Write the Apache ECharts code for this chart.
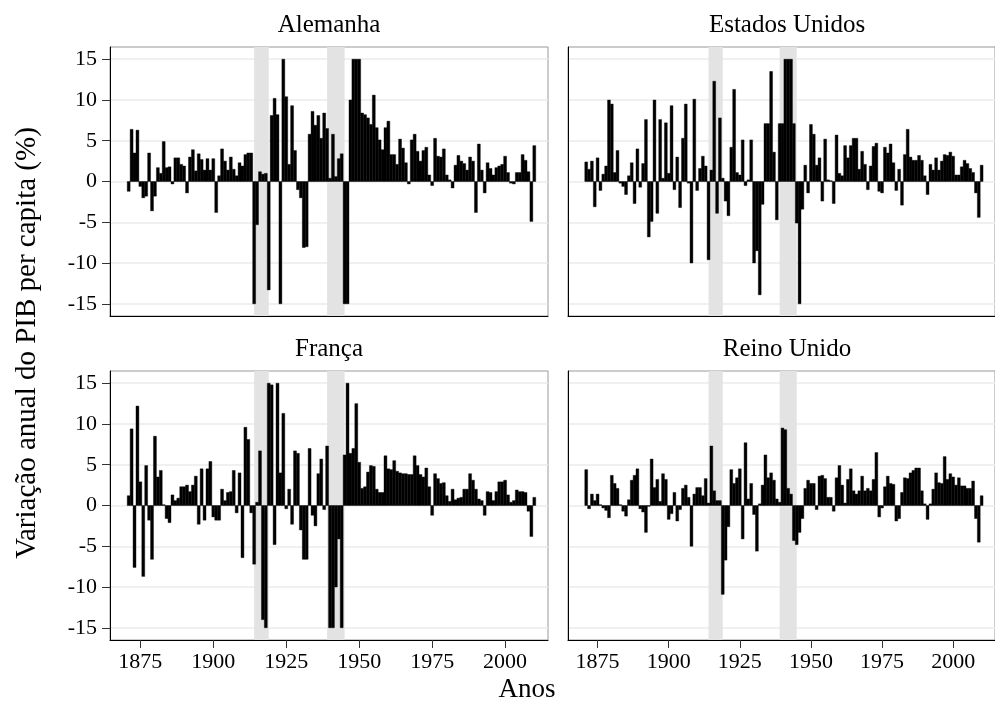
<!DOCTYPE html>
<html>
<head>
<meta charset="utf-8">
<script src="https://cdn.jsdelivr.net/npm/echarts@6/dist/echarts.min.js"></script>
<style>
  html, body { margin: 0; padding: 0; background: #fff; }
  #chart { width: 995px; height: 710px; }
</style>
</head>
<body>
<div id="chart"></div>
<script>
// variação anual do PIB per capita (%), 1871-2010 (cortada em ±15)
const firstYear = 1871;

const alemanha = [
  -1.2, 6.4, 3.5, 6.3, -0.6, -2.0, -1.8, 3.5, -3.6, -1.8,
  1.7, 1.0, 4.9, 1.7, 1.8, -0.3, 2.9, 2.9, 2.1, 1.9,
  -1.4, 3.0, 3.9, 1.3, 3.4, 2.7, 1.4, 2.8, 1.4, 2.8,
  -3.8, 0.7, 4.0, 2.5, 1.4, 3.0, 1.5, 0.7, 2.3, 1.9,
  3.3, 3.5, 3.5, -15, -5.3, 1.2, 0.9, 1.0, -13.3, 8.1,
  10.2, 8.2, -15, 15, 10.4, 2.1, 9.3, 3.8, -1.0, -2.0,
  -8.1, -8.0, 5.8, 8.6, 6.9, 8.1, 5.3, 8.4, 6.5, 0.4,
  5.8, 0.6, 2.8, 3.4, -15, -15, 10.0, 15, 15, 15,
  8.4, 8.2, 7.8, 7.0, 10.6, 6.6, 5.1, 3.9, 6.6, 7.4,
  3.3, 3.3, 2.1, 5.2, 4.1, 2.3, -0.3, 5.1, 5.8, 3.7,
  2.5, 3.8, 4.2, 0.8, -0.5, 5.3, 3.1, 3.0, 4.0, 0.8,
  0.2, -0.8, 2.0, 3.2, 2.5, 2.2, 1.4, 3.0, 2.5, -3.8,
  4.6, 1.4, -1.4, 2.3, 1.6, 0.8, 1.7, 1.9, 2.1, 3.1,
  1.1, -0.2, -0.3, 1.1, 1.1, 3.3, 2.6, 1.2, -4.9, 4.4
];

const estadosUnidos = [
  2.4, 1.5, 2.5, -3.1, 2.9, -1.1, 0.9, 1.9, 10.0, 9.5,
  1.1, 3.8, -0.2, -0.6, -1.6, 0.7, 2.3, -2.7, 4.0, -0.7,
  2.2, 7.6, -6.8, -4.9, 10.0, -3.9, 7.6, 0.4, 7.2, 1.0,
  9.3, -1.0, 3.0, -3.2, 5.3, 9.5, -0.2, -10.0, 10.1, -1.1,
  1.6, 3.1, 1.9, -9.6, 1.4, 12.3, -3.9, 7.8, 0.4, -2.4,
  -4.2, 4.2, 11.3, 1.1, 0.8, 5.1, -0.5, 0.2, 5.1, -10.0,
  -8.5, -13.9, -2.8, 7.1, 7.1, 13.5, 3.6, -4.7, 7.1, 7.1,
  15, 15, 15, 7.1, -5.1, -15, -3.4, 2.0, -1.4, 7.0,
  5.8, 2.0, 2.9, -2.4, 5.2, 0.2, 0.1, -2.7, 5.7, 1.0,
  0.7, 4.4, 2.9, 4.4, 5.3, 5.3, 1.5, 3.7, 2.1, -1.0,
  1.9, 4.3, 4.7, -1.2, -1.4, 4.2, 3.5, 4.6, 2.3, -1.1,
  1.5, -2.9, 3.3, 6.4, 3.0, 2.6, 2.6, 3.2, 2.6, 0.7,
  -1.6, 2.1, 1.4, 2.9, 1.4, 2.5, 3.3, 3.2, 3.6, 3.1,
  0.8, 0.8, 1.8, 2.6, 2.2, 1.6, 1.1, -1.4, -4.4, 2.0
];

const franca = [
  1.2, 9.4, -7.6, 12.2, 2.9, -8.7, 4.9, -1.8, -6.6, 8.5,
  3.5, 4.3, 0.1, -1.6, -2.1, 1.3, 0.6, 0.9, 2.3, 2.3,
  2.5, 1.7, 2.5, 3.6, -2.3, 4.5, -1.8, 4.5, 5.4, -1.4,
  -1.8, -1.8, 2.0, 0.6, 1.6, 1.7, 4.3, -0.9, 4.0, -6.4,
  9.6, 8.1, -0.9, -7.2, 0.4, 6.7, -14.0, -15, 15, 14.8,
  -4.8, 15, 4.0, 11.3, -0.4, 2.0, -2.3, 6.7, 6.4, -3.0,
  -6.6, -6.6, 7.0, -1.2, -2.5, 3.9, 5.7, -0.5, 7.3, -15,
  -15, -10.0, -4.1, -15, 6.2, 15, 6.4, 7.0, 12.5, 5.3,
  2.1, 2.3, 4.1, 4.9, 4.8, 2.0, 1.6, 1.6, 6.1, 4.5,
  4.4, 5.5, 4.2, 4.0, 3.9, 3.9, 3.8, 3.8, 6.1, 4.9,
  3.8, 3.5, 4.6, 2.3, -1.2, 3.9, 3.3, 2.7, 2.8, 1.2,
  0.5, 2.0, 0.7, 0.9, 1.0, 2.0, 2.0, 3.9, 3.1, 2.0,
  0.8, 0.6, -1.2, 1.7, 1.6, 0.6, 1.7, 2.9, 2.9, 3.1,
  1.3, 0.4, 0.6, 1.9, 1.7, 1.7, 1.6, -0.7, -3.8, 1.0
];

const reinoUnido = [
  4.4, -0.4, 1.4, 0.6, 1.4, 0.1, -0.3, -0.6, -1.5, 3.7,
  2.7, 2.1, 0.1, -0.7, -1.3, 0.7, 3.1, 3.7, 4.5, -0.4,
  -0.8, -3.3, -0.1, 5.7, 2.2, 3.2, 0.5, 3.9, 3.2, -1.7,
  -1.0, 1.6, -1.9, -0.5, 2.1, 2.5, 1.0, -5.0, 1.4, 2.2,
  2.2, 1.2, 3.3, 0.3, 7.3, 1.8, 0.6, 0.6, -10.9, -6.7,
  -2.6, 4.4, 2.7, 3.4, 4.5, -4.1, 7.7, 0.8, 2.7, -1.1,
  -5.6, 0.2, 2.5, 6.2, 3.4, 4.0, 3.1, 0.8, 0.4, 9.5,
  9.3, 2.1, 1.4, -4.3, -4.8, -3.3, -1.6, 2.1, 3.1, 2.7,
  2.7, -0.5, 3.6, 3.7, 3.3, 1.0, 1.0, -0.7, 3.4, 4.9,
  2.5, 0.3, 3.2, 4.5, 1.8, 1.4, 1.8, 3.6, 1.8, 2.1,
  1.8, 3.2, 6.5, -1.4, -0.3, 2.3, 3.6, 2.7, 2.6, -1.9,
  -1.6, 1.6, 3.4, 3.3, 4.0, 4.3, 4.6, 4.6, 1.8, 0.2,
  -1.7, 0.2, 2.0, 4.0, 2.8, 2.7, 6.0, 3.2, 3.9, 3.5,
  2.5, 3.4, 2.4, 2.4, 2.1, 2.1, 3.0, -1.6, -4.5, 1.2
];

const panelNames = ['Alemanha', 'Estados Unidos', 'França', 'Reino Unido'];
const panelValues = [alemanha, estadosUnidos, franca, reinoUnido];
// guerras mundiais (faixas cinzas)
const warStart = [1914, 1939];
const warEnd = [1919, 1945];
const yearTicks = [1875, 1900, 1925, 1950, 1975, 2000];
const valueTicks = [-15, -10, -5, 0, 5, 10, 15];

const FONT = '"Liberation Serif", "Times New Roman", serif';

const years = alemanha.map((_, i) => firstYear + i);
const wars = warStart.map((s, i) => [s, warEnd[i]]);

const grids = [
  { left: 110, top: 47, width: 438, height: 269 },
  { left: 568, top: 47, width: 438, height: 269 },
  { left: 110, top: 371, width: 438, height: 269 },
  { left: 568, top: 371, width: 438, height: 269 }
];

function renderBar(params, api) {
  const year = api.value(0);
  const v = api.value(1);
  const a = api.coord([year - 0.5, v]);
  const b = api.coord([year + 0.5, 0]);
  return {
    type: 'rect',
    shape: { x: a[0], y: Math.min(a[1], b[1]), width: b[0] - a[0], height: Math.abs(b[1] - a[1]) },
    style: { fill: '#000', stroke: '#000', lineWidth: 0.4 }
  };
}

function renderBand(params, api) {
  const cs = params.coordSys;
  const a = api.coord([api.value(0), 0]);
  const b = api.coord([api.value(1), 0]);
  return {
    type: 'rect',
    shape: { x: a[0], y: cs.y, width: b[0] - a[0], height: cs.height },
    style: { fill: '#e3e3e3' }
  };
}

const xAxis = grids.map((g, i) => ({
  type: 'value',
  gridIndex: i,
  min: 1864.6,
  max: 2014.7,
  axisLine: { show: true, onZero: false, lineStyle: { color: '#000', width: 1 } },
  axisTick: { show: i >= 2, customValues: yearTicks, length: 8, lineStyle: { color: '#333' } },
  axisLabel: {
    show: i >= 2, customValues: yearTicks, margin: 11,
    formatter: v => String(v),
    fontFamily: FONT, fontSize: 22, color: '#000'
  },
  splitLine: { show: false }
}));

const yAxis = grids.map((g, i) => ({
  type: 'value',
  gridIndex: i,
  min: -16.5,
  max: 16.5,
  axisLine: { show: true, onZero: false, lineStyle: { color: '#000', width: 1 } },
  axisTick: { show: i % 2 === 0, customValues: valueTicks, length: 8, lineStyle: { color: '#333' } },
  axisLabel: {
    show: i % 2 === 0, customValues: valueTicks, margin: 13,
    formatter: v => String(v),
    fontFamily: FONT, fontSize: 22, color: '#000'
  },
  splitLine: { show: true, lineStyle: { color: '#ebebeb', width: 1.5 } }
}));

const series = [];
panelValues.forEach((vals, i) => {
  series.push({
    type: 'custom',
    xAxisIndex: i,
    yAxisIndex: i,
    z: 1,
    silent: true,
    renderItem: renderBand,
    data: wars
  });
  series.push({
    type: 'custom',
    xAxisIndex: i,
    yAxisIndex: i,
    z: 2,
    silent: true,
    renderItem: renderBar,
    data: years.map((y, k) => [y, vals[k]])
  });
});

const titles = panelNames.map((name, i) => ({
  type: 'text',
  x: grids[i].left + 219,
  y: grids[i].top - 22,
  style: {
    text: name, font: '25px ' + FONT, fill: '#000',
    align: 'center', verticalAlign: 'middle', textAlign: 'center', textVerticalAlign: 'middle'
  }
}));

const chart = echarts.init(document.getElementById('chart'));
chart.setOption({
  backgroundColor: '#fff',
  animation: false,
  grid: grids.map(g => Object.assign({ show: true, borderColor: '#999', borderWidth: 1 }, g)),
  xAxis: xAxis,
  yAxis: yAxis,
  series: series,
  graphic: titles.concat([
    {
      type: 'text',
      x: 27,
      y: 343,
      rotation: Math.PI / 2,
      style: {
        text: 'Variação anual do PIB per capita (%)', font: '29px ' + FONT, fill: '#000',
        align: 'center', verticalAlign: 'middle', textAlign: 'center', textVerticalAlign: 'middle'
      }
    },
    {
      type: 'text',
      x: 527,
      y: 690,
      style: {
        text: 'Anos', font: '27px ' + FONT, fill: '#000',
        align: 'center', verticalAlign: 'middle', textAlign: 'center', textVerticalAlign: 'middle'
      }
    }
  ])
});
</script>
</body>
</html>
